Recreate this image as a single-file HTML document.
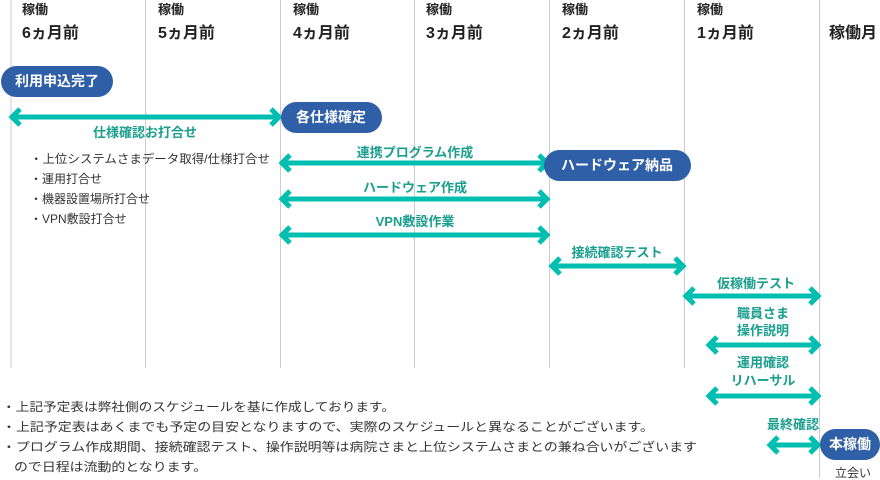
<!DOCTYPE html>
<html><head><meta charset="utf-8"><style>
html,body{margin:0;padding:0;background:#fff;}
svg{display:block;font-family:"Liberation Sans","Noto Sans CJK JP",sans-serif;}
.h1{font-size:13px;font-weight:bold;fill:#222;}
.h2{font-size:16px;font-weight:bold;fill:#222;}
.lb{font-size:13px;font-weight:bold;fill:#1a9e8e;}
.pt{font-size:14px;font-weight:bold;fill:#fff;}
.tx{font-size:12px;fill:#333;}
.ar{stroke:#00bfb0;stroke-width:5;fill:none;}
</style></head><body>
<svg width="880" height="480" viewBox="0 0 880 480">
<defs>
<g id="hl"><polyline class="ar" points="9,-8 1,0 9,8"/></g>
<g id="hr"><polyline class="ar" points="-9,-8 -1,0 -9,8"/></g>
</defs>
<g stroke="#cccccc" stroke-width="1">
<line x1="11" y1="0" x2="11" y2="368"/>
<line x1="145.5" y1="0" x2="145.5" y2="368"/>
<line x1="280.5" y1="0" x2="280.5" y2="368"/>
<line x1="414.5" y1="0" x2="414.5" y2="368"/>
<line x1="549.5" y1="0" x2="549.5" y2="368"/>
<line x1="684.5" y1="0" x2="684.5" y2="368"/>
<line x1="819.5" y1="0" x2="819.5" y2="478"/>
</g>
<text class="h1" x="22" y="14">稼働</text>
<text class="h1" x="158" y="14">稼働</text>
<text class="h1" x="293" y="14">稼働</text>
<text class="h1" x="426" y="14">稼働</text>
<text class="h1" x="562" y="14">稼働</text>
<text class="h1" x="697" y="14">稼働</text>
<text class="h2" x="22" y="38">6ヵ月前</text>
<text class="h2" x="158" y="38">5ヵ月前</text>
<text class="h2" x="293" y="38">4ヵ月前</text>
<text class="h2" x="426" y="38">3ヵ月前</text>
<text class="h2" x="562" y="38">2ヵ月前</text>
<text class="h2" x="697" y="38">1ヵ月前</text>
<text class="h2" x="829" y="38">稼働月</text>

<g>
<line class="ar" x1="12" y1="117" x2="279" y2="117"/><use href="#hl" x="11" y="117"/><use href="#hr" x="280" y="117"/>
<line class="ar" x1="282" y1="163" x2="547" y2="163"/><use href="#hl" x="281" y="163"/><use href="#hr" x="548" y="163"/>
<line class="ar" x1="282" y1="199" x2="547" y2="199"/><use href="#hl" x="281" y="199"/><use href="#hr" x="548" y="199"/>
<line class="ar" x1="282" y1="235" x2="547" y2="235"/><use href="#hl" x="281" y="235"/><use href="#hr" x="548" y="235"/>
<line class="ar" x1="552" y1="266" x2="683" y2="266"/><use href="#hl" x="551" y="266"/><use href="#hr" x="684" y="266"/>
<line class="ar" x1="686" y1="296" x2="818" y2="296"/><use href="#hl" x="685" y="296"/><use href="#hr" x="819" y="296"/>
<line class="ar" x1="709" y1="345" x2="818" y2="345"/><use href="#hl" x="708" y="345"/><use href="#hr" x="819" y="345"/>
<line class="ar" x1="709" y1="396" x2="818" y2="396"/><use href="#hl" x="708" y="396"/><use href="#hr" x="819" y="396"/>
<line class="ar" x1="770" y1="445" x2="818" y2="445"/><use href="#hl" x="769" y="445"/><use href="#hr" x="819" y="445"/>
</g>

<rect x="1" y="66" width="112" height="31" rx="15.5" fill="#2f5fa6"/>
<text class="pt" x="57" y="86" text-anchor="middle">利用申込完了</text>
<rect x="281" y="102" width="101" height="31" rx="15.5" fill="#2f5fa6"/>
<text class="pt" x="331" y="122" text-anchor="middle">各仕様確定</text>
<rect x="544" y="150" width="147" height="31" rx="15.5" fill="#2f5fa6"/>
<text class="pt" x="617" y="170" text-anchor="middle">ハードウェア納品</text>
<rect x="820" y="429" width="60" height="31" rx="15.5" fill="#2f5fa6"/>
<text class="pt" x="850" y="449" text-anchor="middle">本稼働</text>

<g class="lb" text-anchor="middle">
<text x="145" y="137">仕様確認お打合せ</text>
<text x="415" y="157">連携プログラム作成</text>
<text x="415" y="192">ハードウェア作成</text>
<text x="415" y="226">VPN敷設作業</text>
<text x="617" y="257">接続確認テスト</text>
<text x="756" y="288">仮稼働テスト</text>
<text x="763" y="318">職員さま</text>
<text x="763" y="335">操作説明</text>
<text x="763" y="367">運用確認</text>
<text x="763" y="385">リハーサル</text>
<text x="793" y="429">最終確認</text>
</g>

<g class="tx">
<text x="30" y="163" textLength="240" lengthAdjust="spacingAndGlyphs">・上位システムさまデータ取得/仕様打合せ</text>
<text x="30" y="183">・運用打合せ</text>
<text x="30" y="203">・機器設置場所打合せ</text>
<text x="30" y="223">・VPN敷設打合せ</text>
<text x="2" y="411" textLength="393" lengthAdjust="spacingAndGlyphs">・上記予定表は弊社側のスケジュールを基に作成しております。</text>
<text x="2" y="431" textLength="652" lengthAdjust="spacingAndGlyphs">・上記予定表はあくまでも予定の目安となりますので、実際のスケジュールと異なることがございます。</text>
<text x="2" y="451" textLength="695" lengthAdjust="spacingAndGlyphs">・プログラム作成期間、接続確認テスト、操作説明等は病院さまと上位システムさまとの兼ね合いがございます</text>
<text x="14" y="471" textLength="193" lengthAdjust="spacingAndGlyphs">ので日程は流動的となります。</text>
<text x="853" y="477" text-anchor="middle">立会い</text>
</g>
</svg>
</body></html>
